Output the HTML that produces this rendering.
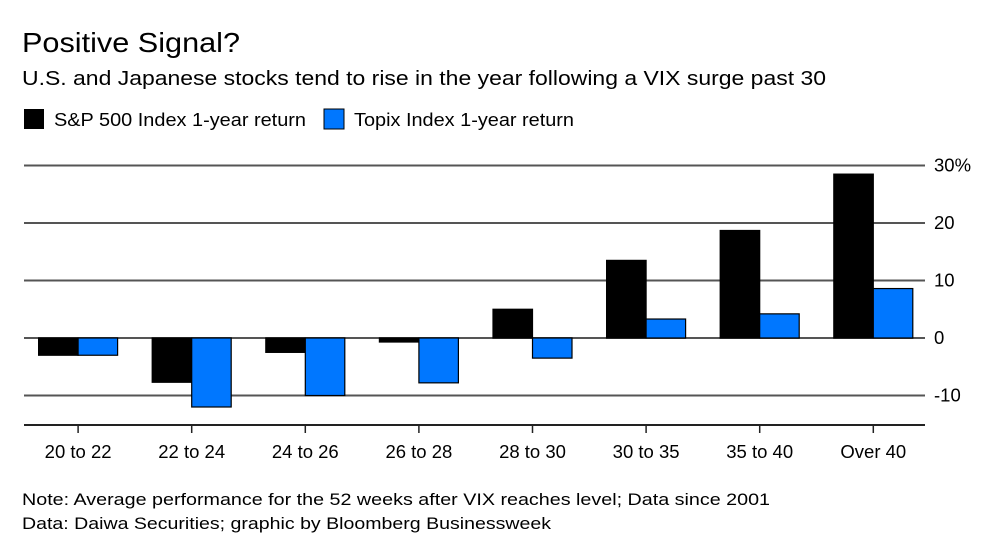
<!DOCTYPE html>
<html><head><meta charset="utf-8"><style>
body{margin:0;width:1000px;height:548px;background:#fff;font-family:"Liberation Sans",sans-serif;color:#000;overflow:hidden}
</style></head><body>
<svg width="1000" height="548" font-family="Liberation Sans, sans-serif">
<text x="22" y="52" font-size="28" textLength="218" lengthAdjust="spacingAndGlyphs">Positive Signal?</text>
<text x="22" y="85" font-size="20" textLength="804" lengthAdjust="spacingAndGlyphs">U.S. and Japanese stocks tend to rise in the year following a VIX surge past 30</text>
<g>
<rect x="24" y="109" width="20" height="20" fill="#000"/>
<text x="54" y="126" font-size="18.5" textLength="252" lengthAdjust="spacingAndGlyphs">S&amp;P 500 Index 1-year return</text>
<rect x="324" y="109" width="20" height="20" fill="#0077ff" stroke="#000"/>
<text x="354" y="126" font-size="18.5" textLength="220" lengthAdjust="spacingAndGlyphs">Topix Index 1-year return</text>
</g>
<g id="grid"></g><g id="bars"></g><g id="axis"></g>
<text x="22" y="505" font-size="17" textLength="748" lengthAdjust="spacingAndGlyphs">Note: Average performance for the 52 weeks after VIX reaches level; Data since 2001</text>
<text x="22" y="529" font-size="17" textLength="529" lengthAdjust="spacingAndGlyphs">Data: Daiwa Securities; graphic by Bloomberg Businessweek</text>
</svg>
<script>
const categories=["20 to 22","22 to 24","24 to 26","26 to 28","28 to 30","30 to 35","35 to 40","Over 40"];
const sp500=[-3,-7.7,-2.5,-0.7,5,13.5,18.7,28.5];
const topix=[-3,-12,-10,-7.8,-3.5,3.3,4.2,8.6];
const yTicks=[30,20,10,0,-10];
const yTickLabels=["30%","20","10","0","-10"];
const NS="http://www.w3.org/2000/svg";
const y=v=>338-v*5.75;
const x0=21.3,step=113.6;
const cx=i=>x0+step*(i+0.5);
function mk(t,a,p){const e=document.createElementNS(NS,t);for(const k in a)e.setAttribute(k,a[k]);p.appendChild(e);return e;}
const g=document.getElementById('grid'),b=document.getElementById('bars'),ax=document.getElementById('axis');
yTicks.forEach((v,i)=>{
 const l=mk('line',{x1:24,x2:925,y1:y(v),y2:y(v),stroke:'#555','stroke-width':2},g);
 
 
 const t=mk('text',{x:934,y:y(v)+6,'font-size':18.5},g);t.textContent=yTickLabels[i];
 
 
});
categories.forEach((c,i)=>{
 const c0=cx(i),w=39.5;
 [[sp500[i],c0-w,'#000','bar-sp500'],[topix[i],c0,'#0077ff','bar-topix']].forEach(([v,xx,f,n])=>{
  const r=mk('rect',{x:xx,y:Math.min(y(v),y(0)),width:w,height:Math.abs(y(v)-y(0)),fill:f,stroke:'#000','stroke-width':1.2},b);
  
  
 });
 const tk=mk('line',{x1:c0,x2:c0,y1:425,y2:433,stroke:'#222','stroke-width':1.5},ax);
 
 
 const t=mk('text',{x:c0,y:458,'font-size':18.5,'text-anchor':'middle'},ax);t.textContent=c;
 
 
});
const a=mk('line',{x1:24,x2:925,y1:425,y2:425,stroke:'#222','stroke-width':2},ax);


</script>
</body></html>
